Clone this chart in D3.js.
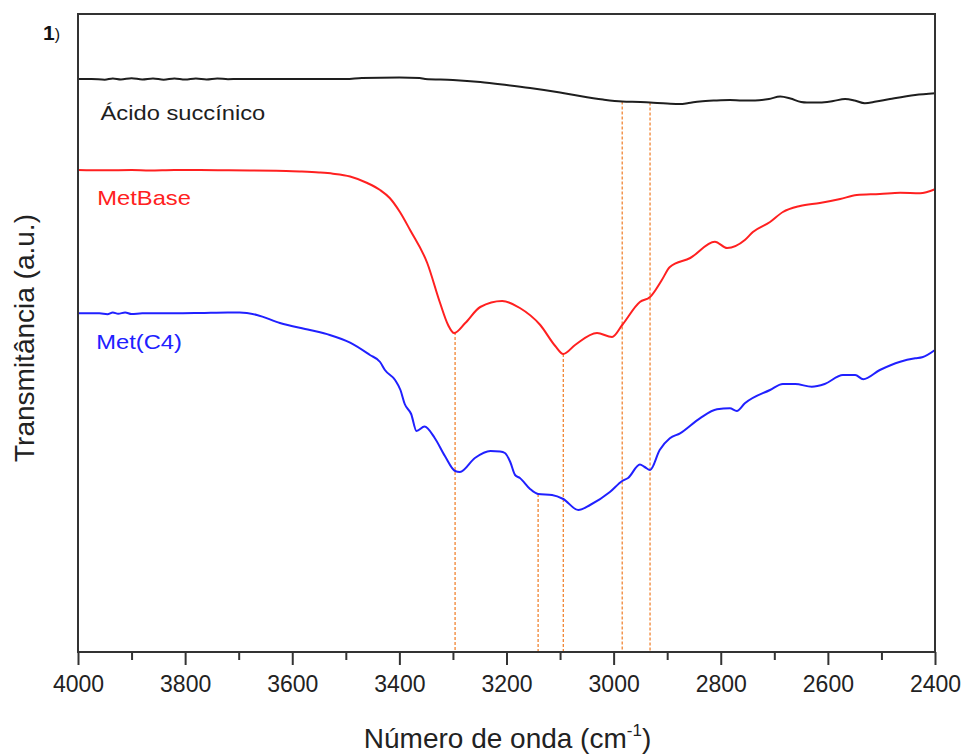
<!DOCTYPE html>
<html><head><meta charset="utf-8">
<script src="https://cdn.jsdelivr.net/npm/d3@7/dist/d3.min.js"></script>
<style>html,body{margin:0;padding:0;background:#fff;}svg{display:block;font-family:"Liberation Sans",Arial,sans-serif;}</style>
</head><body><svg id="c" width="967" height="754"></svg>
<script>
// Wavenumber (cm-1), transmittance (a.u.)
const acidoSuccinico = [
[4000,573],[3975,573],[3950,572.3],[3935,573.5],[3920,572.5],[3900,573.8],[3880,572.5],[3860,573.5],[3840,572.3],[3820,573.6],[3800,572.4],[3780,573.5],[3760,572.6],[3740,573.6],[3720,572.8],[3700,573],[3650,573],[3600,573],[3550,573],[3500,573],[3470,574],[3400,574.5],[3362,574],[3352,573],[3300,572],[3249,570],[3200,567],[3156,564],[3100,559.5],[3063,556],[3020,552.5],[2984,550.5],[2950,550],[2932,549.5],[2900,548.5],[2876,548],[2860,549],[2839,550.5],[2810,551.5],[2783,552],[2760,551.5],[2736,551.5],[2710,553],[2689,555.5],[2670,553.5],[2650,550],[2639,549.5],[2615,549.5],[2590,551],[2568,553],[2550,551.5],[2531,548.7],[2510,550.5],[2484,553],[2437,557],[2400,558.7]
];
const metBase = [
[4000,482],[3950,481.7],[3900,482],[3866,481.5],[3820,482],[3772,482],[3720,481.7],[3679,481.5],[3630,481.3],[3586,480.5],[3550,479.5],[3524,478.3],[3492,475.5],[3460,469],[3436,462],[3418,454],[3399,440],[3380,422],[3348,389],[3324,349],[3309,327],[3298,319],[3277,329],[3249,345],[3208,351],[3175,344],[3137,327],[3109,306],[3094,298],[3072,307],[3031,319],[3003,315],[2984,327],[2951,350],[2932,355],[2910,372],[2895,385],[2857,394],[2811,410.3],[2788,404],[2755,412],[2740,420],[2708,430],[2684,440],[2652,446],[2615,449],[2577,453],[2546,457],[2503,458],[2465,459.3],[2428,458.7],[2400,462.7]
];
const metC4 = [
[4000,338.7],[3960,338.7],[3945,337.8],[3935,339.5],[3925,338.2],[3912,339.6],[3900,338],[3880,338.7],[3820,338.7],[3772,339],[3720,339.5],[3698,339.5],[3666,337],[3623,329],[3567,322],[3530,317],[3492,309.3],[3455,297],[3436,290],[3427,282],[3408,272],[3398,262],[3390,248],[3378,238],[3368,221],[3353,225.5],[3334,214],[3315,196],[3296,181],[3287,180],[3259,194],[3230,201],[3212,200.5],[3203,199],[3193,190],[3184,177],[3175,174],[3156,163],[3141,158],[3115,157],[3094,153],[3066,142],[3044,147],[3007,160],[2984,171],[2973,174],[2951,187.5],[2942,185],[2932,182],[2914,202],[2895,213.7],[2876,218.7],[2839,233.7],[2807,242.7],[2783,243.7],[2770,241],[2755,248.7],[2708,262],[2684,268],[2661,268],[2630,265.3],[2606,268],[2572,277],[2549,277],[2534,272.7],[2503,282],[2465,290.3],[2437,293.7],[2424,294.7],[2400,302]
];
const seriesNames = ["Ácido succínico","MetBase","Met(C4)"];
const seriesColors = ["#1e1e1e","#ff2020","#2020ff"];
const seriesData = [acidoSuccinico, metBase, metC4];
const labelPos = [[3958,532],[3964,447],[3966,303]]; // label anchor (wavenumber, a.u.)
const markerWavenumbers = [3296,3141,3094,2984,2932];
const markerSeries = [1,2,1,0,0];
const xTicks = [4000,3800,3600,3400,3200,3000,2800,2600,2400];
const xMinorTicks = [3900,3700,3500,3300,3100,2900,2700,2500];

const svg = d3.select("#c");
const L=78,R=935,T=14,B=652;
const x = d3.scaleLinear().domain([4000,2400]).range([L,R]);
const y = d3.scaleLinear().domain([0,638]).range([B,T]);

function interp(data, w){
  for(let i=0;i<data.length-1;i++){
    const a=data[i],b=data[i+1];
    if(w<=a[0] && w>=b[0]){const t=(a[0]-w)/(a[0]-b[0]);return a[1]+t*(b[1]-a[1]);}
  }
  return data[data.length-1][1];
}

// dashed markers
svg.append("g").selectAll("line").data(markerWavenumbers).join("line")
  .attr("x1",d=>x(d)).attr("x2",d=>x(d))
  .attr("y1",(d,i)=>y(interp(seriesData[markerSeries[i]],d)))
  .attr("y2",B)
  .attr("stroke","#f07a22").attr("stroke-width",1.2).attr("stroke-dasharray","3,2");

const line = d3.line().x(d=>x(d[0])).y(d=>y(d[1])).curve(d3.curveMonotoneX);
seriesData.forEach((d,i)=>{
  svg.append("path").attr("d",line(d)).attr("fill","none")
    .attr("stroke",seriesColors[i]).attr("stroke-width",2).attr("stroke-linejoin","round");
});

// labels
seriesNames.forEach((n,i)=>{
  const px=x(labelPos[i][0]), py=y(labelPos[i][1]);
  svg.append("text").attr("transform",`translate(${px},${py}) scale(1.13,1)`)
    .attr("fill",seriesColors[i]).attr("font-size",21).text(n);
});

// frame
svg.append("rect").attr("x",L).attr("y",T).attr("width",R-L).attr("height",B-T)
  .attr("fill","none").attr("stroke","#333").attr("stroke-width",2);

// x axis
const ax = svg.append("g").attr("transform",`translate(0,${B})`)
  .call(d3.axisBottom(x).tickValues(xTicks).tickSize(13).tickFormat(d3.format("d")));
ax.select(".domain").remove();
ax.selectAll("line").attr("stroke","#333").attr("stroke-width",2);
ax.selectAll("text").attr("font-size",23).attr("fill","#222").attr("dy","1.05em").attr("font-family","Liberation Sans, Arial, sans-serif");
const axm = svg.append("g").attr("transform",`translate(0,${B})`)
  .call(d3.axisBottom(x).tickValues(xMinorTicks).tickSize(8).tickFormat(""));
axm.select(".domain").remove();
axm.selectAll("line").attr("stroke","#333").attr("stroke-width",2);

// axis titles
const xt = svg.append("text").attr("x",(L+R)/2+1).attr("y",748).attr("text-anchor","middle")
  .attr("font-size",28).attr("fill","#222");
xt.append("tspan").text("Número de onda (cm");
xt.append("tspan").attr("font-size",17).attr("dy",-12).text("-1");
xt.append("tspan").attr("dy",12).text(")");

svg.append("text").attr("transform","translate(34,338) rotate(-90)").attr("text-anchor","middle")
  .attr("font-size",28).attr("fill","#222").text("Transmitância (a.u.)");

const lab = svg.append("text").attr("x",43).attr("y",40).attr("font-size",21).attr("fill","#111");
lab.append("tspan").attr("font-weight","bold").text("1");
lab.append("tspan").attr("font-size",16).text(")");
</script></body></html>
